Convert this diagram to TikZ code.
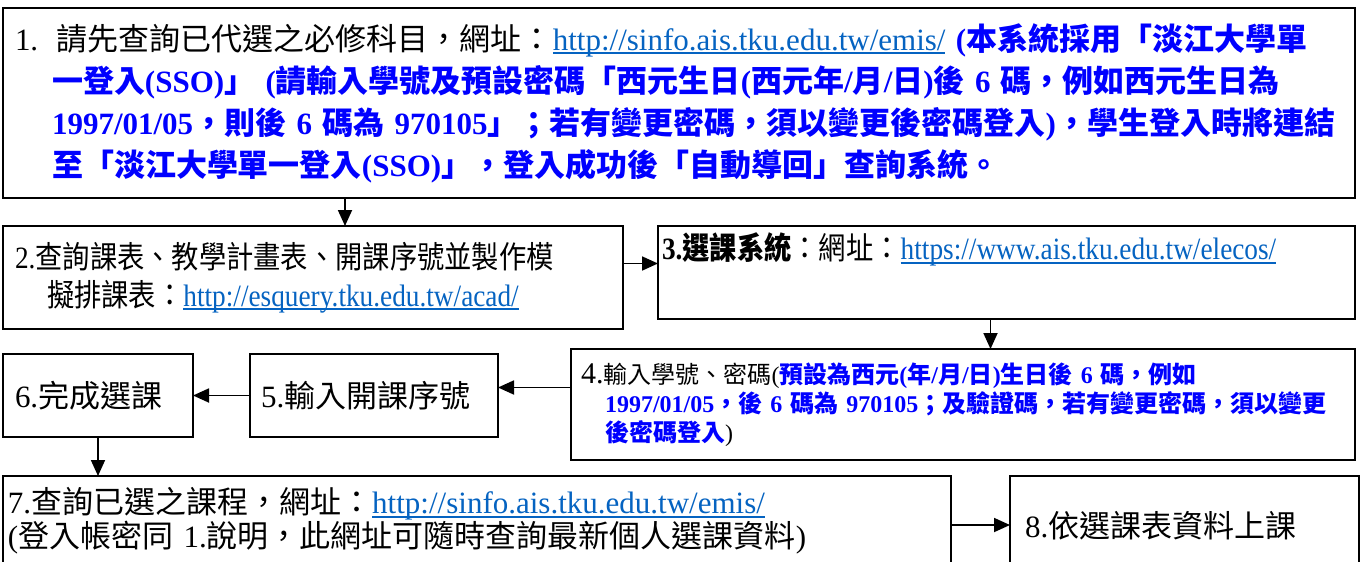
\documentclass[tikz,border=0pt]{standalone}
\usepackage{fontspec}
\setmainfont{Liberation Serif}
\newfontfamily\zhfont{Noto Sans CJK TC}
\newfontfamily\zhnarrow{Noto Sans CJK TC}[FakeStretch=0.88]
\newfontfamily\rmnarrow{Liberation Serif}[FakeStretch=0.88]
\usetikzlibrary{arrows.meta, positioning}
\usepackage{xcolor}

\definecolor{textblue}{RGB}{0,0,255}
\definecolor{linkblue}{RGB}{5,99,193}
\let\zhcur\zhfont
\newcommand\zh[1]{{\zhcur #1}}
\newcommand\hl[1]{{\color{textblue}\bfseries #1}}
\newcommand\lnk[1]{{\color{linkblue}\setbox0\hbox{#1}\rlap{\rule[-0.12em]{\wd0}{0.05em}}\box0}}
\newcommand\narrowtext{\rmnarrow\let\zhcur\zhnarrow}

\begin{document}
\begin{tikzpicture}[
  x=1pt, y=-1pt,
  box/.style={rectangle, draw, line width=1.8pt, align=left, outer sep=0pt, inner ysep=0pt, anchor=north west},
  arrow/.style={line width=1.8pt, -{Triangle[length=16pt, width=14pt]}}
]
\clip (0,0) rectangle (1363,562);

% Step 1 - query required courses
\node[box, minimum width=1352pt, minimum height=190pt, inner xsep=12pt, text width=1328pt,
      font=\fontsize{31}{42}\selectfont] (query) at (3,8) {%
  1.\hspace{0.6em}\zh{請先查詢已代選之必修科目，網址：}\lnk{http://sinfo.ais.tku.edu.tw/emis/} \hl{(\zh{本系統採用「淡江大學單}}\\
  \hspace*{37pt}\hl{\zh{一登入}(SSO)\zh{」} (\zh{請輸入學號及預設密碼「西元生日}(\zh{西元年}/\zh{月}/\zh{日})\zh{後} 6 \zh{碼，例如西元生日為}}\\
  \hspace*{37pt}\hl{1997/01/05\zh{，則後} 6 \zh{碼為} 970105\zh{」；若有變更密碼，須以變更後密碼登入})\zh{，學生登入時將連結}}\\
  \hspace*{37pt}\hl{\zh{至「淡江大學單一登入}(SSO)\zh{」，登入成功後「自動導回」查詢系統。}}};

% Step 2 and 3
\node[box, below=28pt of query.south west, anchor=north west, minimum width=620pt, minimum height=103pt,
      inner xsep=12pt, text width=596pt, font=\fontsize{31}{38}\selectfont\narrowtext] (schedule) {%
  2.\zh{查詢課表、教學計畫表、開課序號並製作模}\\
  \hspace*{32pt}\zh{擬排課表：}\lnk{http://esquery.tku.edu.tw/acad/}};
\node[box, right=35pt of schedule.north east, anchor=north west, minimum width=697pt, minimum height=93pt,
      inner xsep=4pt, text width=689pt, font=\fontsize{31}{40}\selectfont\narrowtext] (elecos) {%
  \textbf{3.\zh{選課系統}}\zh{：網址：}\lnk{https://www.ais.tku.edu.tw/elecos/}\\ \strut};

% Step 4, 5, 6 (right to left)
\node[box, below=30pt of elecos.south east, anchor=north east, minimum width=784pt, minimum height=111pt,
      inner xsep=10pt, text width=764pt, font=\fontsize{24}{29}\selectfont] (login) {%
  {\fontsize{30}{30}\selectfont 4.}\zh{輸入學號、密碼}(\hl{\zh{預設為西元}(\zh{年}/\zh{月}/\zh{日})\zh{生日後} 6 \zh{碼，例如}}\\
  \hspace*{24pt}\hl{1997/01/05\zh{，後} 6 \zh{碼為} 970105\zh{；及驗證碼，若有變更密碼，須以變更}}\\
  \hspace*{24pt}\hl{\zh{後密碼登入}})};
\node[box, left=73pt of login.north west, anchor=north east, yshift=-5pt, minimum width=248pt, minimum height=83pt,
      inner xsep=11pt, text width=226pt, font=\fontsize{31}{40}\selectfont] (serial) {5.\zh{輸入開課序號}};
\node[box, left=57pt of serial.north west, anchor=north east, minimum width=190pt, minimum height=83pt,
      inner xsep=12pt, text width=166pt, font=\fontsize{31}{40}\selectfont] (done) {6.\zh{完成選課}};

% Step 7 and 8
\node[box, below=39pt of done.south west, anchor=north west, minimum width=948pt, minimum height=90pt,
      inner xsep=5pt, text width=938pt, font=\fontsize{31}{31}\selectfont] (check) {%
  7.\zh{查詢已選之課程，網址：}\lnk{http://sinfo.ais.tku.edu.tw/emis/}\\
  (\zh{登入帳密同} 1.\zh{說明，此網址可隨時查詢最新個人選課資料})};
\node[box, right=59pt of check.north east, anchor=north west, minimum width=349pt, minimum height=100pt,
      inner xsep=15pt, text width=319pt, font=\fontsize{31}{40}\selectfont] (attend) {8.\zh{依選課表資料上課}};

% Flow arrows
\draw[arrow] ([xshift=32pt]schedule.north |- query.south) -- ([xshift=32pt]schedule.north);
\draw[arrow] ([yshift=14pt]schedule.east) -- ([yshift=14pt]schedule.east -| elecos.west);
\draw[arrow] ([xshift=-16pt]elecos.south) -- ([xshift=-16pt]elecos.south |- login.north);
\draw[arrow] ([yshift=17pt]login.west) -- ([yshift=17pt]login.west -| serial.east);
\draw[arrow] (serial.west) -- (serial.west -| done.east);
\draw[arrow] (done.south) -- (done.south |- check.north);
\draw[arrow] ([yshift=-4pt]check.east) -- ([yshift=-4pt]check.east -| attend.west);

\end{tikzpicture}
\end{document}
